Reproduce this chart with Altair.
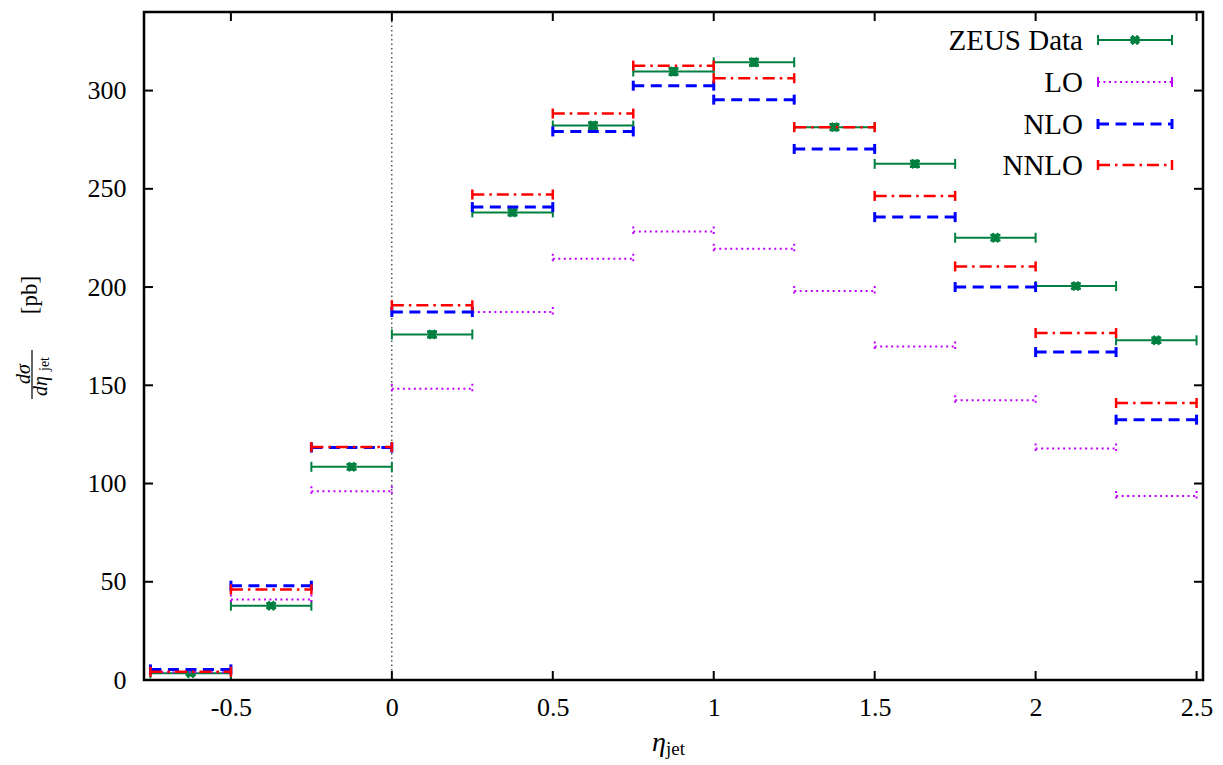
import altair as alt
import pandas as pd

# ---------------- data ----------------
bin_lo = [-0.75, -0.5, -0.25, 0.0, 0.25, 0.5, 0.75, 1.0, 1.25, 1.5, 1.75, 2.0, 2.25]
bin_hi = [-0.5, -0.25, 0.0, 0.25, 0.5, 0.75, 1.0, 1.25, 1.5, 1.75, 2.0, 2.25, 2.5]
bin_mid = [-0.625, -0.375, -0.125, 0.125, 0.375, 0.625, 0.875, 1.125, 1.375, 1.625, 1.875, 2.125, 2.375]

zeus = [3.4, 37.8, 108.5, 175.9, 238.0, 282.2, 309.7, 314.4, 281.4, 262.7, 225.1, 200.5, 172.9]
zeus_err = [0.8, 1.2, 1.5, 1.6, 1.6, 1.7, 1.8, 1.8, 1.6, 1.6, 1.5, 1.4, 1.4]
lo = [4.0, 41.0, 96.1, 148.3, 187.3, 214.4, 228.3, 219.5, 198.0, 169.8, 142.4, 117.8, 93.7]
nlo = [5.4, 48.0, 118.3, 187.3, 240.7, 279.2, 302.5, 295.4, 270.3, 235.6, 200.0, 166.9, 132.5]
nnlo = [4.2, 46.1, 118.6, 190.7, 247.1, 288.3, 312.7, 306.3, 281.4, 246.4, 210.5, 176.6, 141.0]

x_ticks = [-0.5, 0, 0.5, 1, 1.5, 2, 2.5]
y_ticks = [0, 50, 100, 150, 200, 250, 300]

series_names = ["ZEUS Data", "LO", "NLO", "NNLO"]

# ---------------- style ----------------
W, H = 1059, 668
FONT = "Liberation Serif"
GREEN = "#008040"
VIOLET = "#c000ff"
BLUE = "#0000ff"
RED = "#ff0000"

xs = alt.Scale(domain=[-0.77, 2.52], nice=False, zero=False)
ys = alt.Scale(domain=[0, 340], nice=False, zero=False)

x_axis = alt.Axis(values=x_ticks, labelExpr="'' + datum.value", ticks=False, domain=False,
                  grid=False, title=None, labelFont=FONT, labelFontSize=26, labelColor="black",
                  labelPadding=14, labelFlush=False)
y_axis = alt.Axis(values=y_ticks, ticks=False, domain=False, grid=False, title=None,
                  labelFont=FONT, labelFontSize=26, labelColor="black", labelPadding=18)


def X(f):
    return alt.X(f, scale=xs, axis=x_axis)


def Y(f):
    return alt.Y(f, scale=ys, axis=y_axis)


layers = []

# vertical dotted line at x = 0
zero_df = pd.DataFrame({"x": [0.0]})
layers.append(
    alt.Chart(zero_df).mark_rule(color="black", strokeWidth=1, strokeDash=[1.5, 3]).encode(
        x=X("x:Q"), y=alt.value(0), y2=alt.value(H)
    )
)

tick_df_x = pd.DataFrame({"t": x_ticks})
tick_df_y = pd.DataFrame({"t": y_ticks})

# inward ticks, bottom & top
layers.append(
    alt.Chart(tick_df_x).mark_rule(color="black", strokeWidth=2).encode(
        x=X("t:Q"), y=alt.value(H), y2=alt.value(H - 9)
    )
)
layers.append(
    alt.Chart(tick_df_x).mark_rule(color="black", strokeWidth=2).encode(
        x=X("t:Q"), y=alt.value(0), y2=alt.value(9)
    )
)
# inward ticks, left & right
layers.append(
    alt.Chart(tick_df_y).mark_rule(color="black", strokeWidth=2).encode(
        y=Y("t:Q"), x=alt.value(0), x2=alt.value(9)
    )
)
layers.append(
    alt.Chart(tick_df_y).mark_rule(color="black", strokeWidth=2).encode(
        y=Y("t:Q"), x=alt.value(W), x2=alt.value(W - 9)
    )
)


def hist(vals, color, dash, width, capw):
    df = pd.DataFrame({"lo": bin_lo, "hi": bin_hi, "v": vals})
    kw = {} if dash is None else {"strokeDash": dash}
    line = alt.Chart(df).mark_rule(color=color, strokeWidth=width, **kw).encode(
        x=X("lo:Q"), x2="hi:Q", y=Y("v:Q")
    )
    cdf = pd.DataFrame({"x": bin_lo + bin_hi, "v": vals + vals})
    ckw = {} if dash is None or len(dash) != 2 or dash[0] > 3 else {"strokeDash": dash}
    caps = alt.Chart(cdf).mark_rule(color=color, strokeWidth=capw, yOffset=-5, y2Offset=5, **ckw).encode(
        x=X("x:Q"), y=Y("v:Q"), y2="v:Q"
    )
    return [line, caps]


# ZEUS data
layers += hist(zeus, GREEN, None, 2, 2)
zdf = pd.DataFrame({"x": bin_mid, "v": zeus, "e": zeus_err})
zdf["lo"] = zdf["v"] - zdf["e"]
zdf["hi"] = zdf["v"] + zdf["e"]
layers.append(
    alt.Chart(zdf).mark_rule(color=GREEN, strokeWidth=2).encode(
        x=X("x:Q"), y=Y("lo:Q"), y2="hi:Q"
    )
)
for f in ["lo", "hi"]:
    layers.append(
        alt.Chart(zdf).mark_rule(color=GREEN, strokeWidth=2, xOffset=-5, x2Offset=5).encode(
            x=X("x:Q"), x2="x:Q", y=Y(f"{f}:Q")
        )
    )
layers.append(
    alt.Chart(zdf).mark_point(shape="cross", angle=45, filled=True, size=110, color=GREEN, opacity=1).encode(
        x=X("x:Q"), y=Y("v:Q")
    )
)

layers += hist(lo, VIOLET, [2, 3.5], 2, 2)
layers += hist(nlo, BLUE, [11, 6.5], 3, 3)
layers += hist(nnlo, RED, [12, 5, 2.5, 5], 2.5, 2.5)

# ---------------- legend (top-right, text left of sample) ----------------
one = pd.DataFrame({"k": [0]})
leg_rows = [
    (series_names[0], GREEN, None, 2, 28),
    (series_names[1], VIOLET, [2, 3.5], 2, 70),
    (series_names[2], BLUE, [11, 6.5], 3, 112),
    (series_names[3], RED, [12, 5, 2.5, 5], 2.5, 153),
]
sx0, sx1 = 954, 1028
for name, color, dash, w, yy in leg_rows:
    layers.append(
        alt.Chart(one).mark_text(font=FONT, fontSize=29, align="right", baseline="middle", color="black").encode(
            x=alt.value(939), y=alt.value(yy + 1), text=alt.value(name)
        )
    )
    kw = {} if dash is None else {"strokeDash": dash}
    layers.append(
        alt.Chart(one).mark_rule(color=color, strokeWidth=w, **kw).encode(
            x=alt.value(sx0), x2=alt.value(sx1), y=alt.value(yy)
        )
    )
    for cx in (sx0, sx1):
        layers.append(
            alt.Chart(one).mark_rule(color=color, strokeWidth=w).encode(
                x=alt.value(cx), y=alt.value(yy - 5), y2=alt.value(yy + 5)
            )
        )
    if dash is None:
        layers.append(
            alt.Chart(one).mark_point(shape="cross", angle=45, filled=True, size=110, color=color, opacity=1).encode(
                x=alt.value((sx0 + sx1) / 2), y=alt.value(yy)
            )
        )

# ---------------- axis titles ----------------
# x title: eta_jet
layers.append(
    alt.Chart(one).mark_text(font=FONT, fontSize=28, fontStyle="italic", align="center", baseline="middle", color="black").encode(
        x=alt.value(515), y=alt.value(731), text=alt.value("η")
    )
)
layers.append(
    alt.Chart(one).mark_text(font=FONT, fontSize=19, align="left", baseline="middle", color="black").encode(
        x=alt.value(522), y=alt.value(737), text=alt.value("jet")
    )
)


# y title: d sigma / d eta_jet [pb]  (rotated, reading bottom to top)
def rtext(txt, x, y, size, italic=False):
    kw = {"fontStyle": "italic"} if italic else {}
    return alt.Chart(one).mark_text(font=FONT, fontSize=size, angle=270, align="center",
                                    baseline="middle", color="black", **kw).encode(
        x=alt.value(x), y=alt.value(y), text=alt.value(txt)
    )


layers.append(rtext("[pb]", -114, 283, 23))
layers.append(
    alt.Chart(one).mark_rule(color="black", strokeWidth=1.2).encode(
        x=alt.value(-112), y=alt.value(338), y2=alt.value(387)
    )
)
layers.append(rtext("dσ", -120, 362, 20, True))
layers.append(rtext("dη", -103, 374, 20, True))
layers.append(rtext("jet", -99, 352, 14))

chart = alt.layer(*layers).properties(
    width=W, height=H,
    padding={"left": 144, "top": 12, "right": 20, "bottom": 85},
    autosize=alt.AutoSizeParams(type="none"),
    background="white",
).configure_view(stroke="black", strokeWidth=2.5)

chart.save("out.html", embed_options={"renderer": "svg", "actions": False})
